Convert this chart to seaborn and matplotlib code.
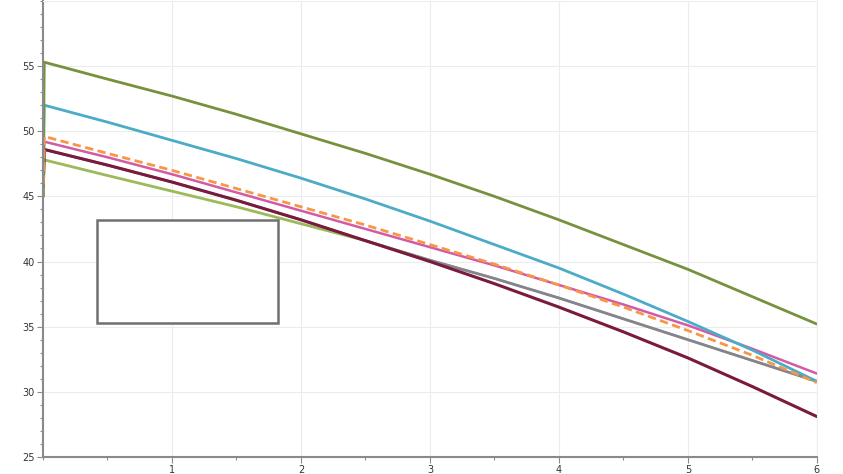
import matplotlib
matplotlib.use("Agg")
import matplotlib.pyplot as plt
from matplotlib.patches import Rectangle
from matplotlib.ticker import MultipleLocator
import pandas as pd
import seaborn as sns

# ──────────────────────────────────────────────────────────────
# Data (x = 0 .. 6)
# ──────────────────────────────────────────────────────────────
x_vals = [0.0, 0.01, 0.5, 1.0, 1.5, 2.0, 2.5, 3.0, 3.5, 4.0, 4.5, 5.0, 5.5, 6.0]

olive   = [45.0, 55.3, 54.0, 52.7, 51.3, 49.8, 48.3, 46.7, 45.0, 43.2, 41.3, 39.4, 37.3, 35.2]
blue    = [45.0, 52.0, 50.7, 49.3, 47.9, 46.4, 44.8, 43.1, 41.3, 39.5, 37.5, 35.4, 33.2, 30.8]
pink    = [45.0, 49.2, 48.0, 46.7, 45.3, 43.9, 42.5, 41.1, 39.7, 38.2, 36.7, 35.1, 33.3, 31.4]
lime    = [45.0, 47.8, 46.6, 45.4, 44.2, 42.9, 41.6, 40.1, 38.7, 37.2, 35.6, 34.0, 32.4, 30.8]
purple  = [45.0, 48.6, 47.4, 46.1, 44.7, 43.2, 41.6, 40.1, 38.7, 37.2, 35.6, 34.0, 32.4, 30.8]
maroon  = [45.0, 48.6, 47.4, 46.1, 44.7, 43.2, 41.6, 40.0, 38.3, 36.5, 34.6, 32.6, 30.4, 28.1]
orange  = [45.0, 49.6, 48.3, 47.0, 45.6, 44.2, 42.8, 41.3, 39.8, 38.2, 36.5, 34.7, 32.8, 30.7]

y_ticks = [25, 30, 35, 40, 45, 50, 55]
x_ticks = [1, 2, 3, 4, 5, 6]

# (name, values, colour, width, dashed)
series = [
    ("lime",   lime,   "#9bbb59", 2.0, False),
    ("purple", purple, "#86809a", 1.8, False),
    ("maroon", maroon, "#7a1a3c", 2.2, False),
    ("pink",   pink,   "#d45aa4", 1.8, False),
    ("blue",   blue,   "#4bacc6", 2.0, False),
    ("olive",  olive,  "#76923c", 2.0, False),
    ("orange", orange, "#f79646", 2.0, True),
]

sns.set_style("white")
plt.rcParams["font.family"] = ["DejaVu Sans"]

fig = plt.figure(figsize=(8.43, 4.74), dpi=100)
ax = fig.add_axes([0.051, 0.036, 0.918, 0.962])

for name, vals, col, lw, dashed in series:
    df = pd.DataFrame({"x": x_vals, "y": vals})
    sns.lineplot(data=df, x="x", y="y", ax=ax, color=col, lw=lw,
                 linestyle=(0, (3, 1.6)) if dashed else "-",
                 estimator=None, sort=False, legend=False)

# blank legend frame
ax.add_patch(Rectangle((0.42, 35.3), 1.40, 7.9, facecolor="white",
                       edgecolor="#707070", lw=1.8, zorder=5))

ax.set_xlim(0, 6)
ax.set_ylim(25, 60)
ax.set_xticks(x_ticks)
ax.set_yticks(y_ticks)
ax.xaxis.set_minor_locator(MultipleLocator(0.5))
ax.yaxis.set_minor_locator(MultipleLocator(1))
ax.set_xlabel("")
ax.set_ylabel("")

ax.grid(True, which="major", color="#ececec", lw=0.8)
ax.set_axisbelow(True)
for side in ["left", "bottom"]:
    ax.spines[side].set_color("#8a8a8a")
    ax.spines[side].set_linewidth(1.5)
for side in ["top", "right"]:
    ax.spines[side].set_color("#eeeeee")
    ax.spines[side].set_linewidth(0.8)

ax.tick_params(axis="both", which="major", length=4, width=0.8, color="#8a8a8a",
               labelsize=7, labelcolor="#333333", direction="out", pad=2)
ax.tick_params(axis="both", which="minor", length=2.5, width=0.8, color="#8a8a8a",
               direction="out")
ax.tick_params(axis="both", which="both", bottom=True, left=True)

fig.savefig("out.png", dpi=100)
